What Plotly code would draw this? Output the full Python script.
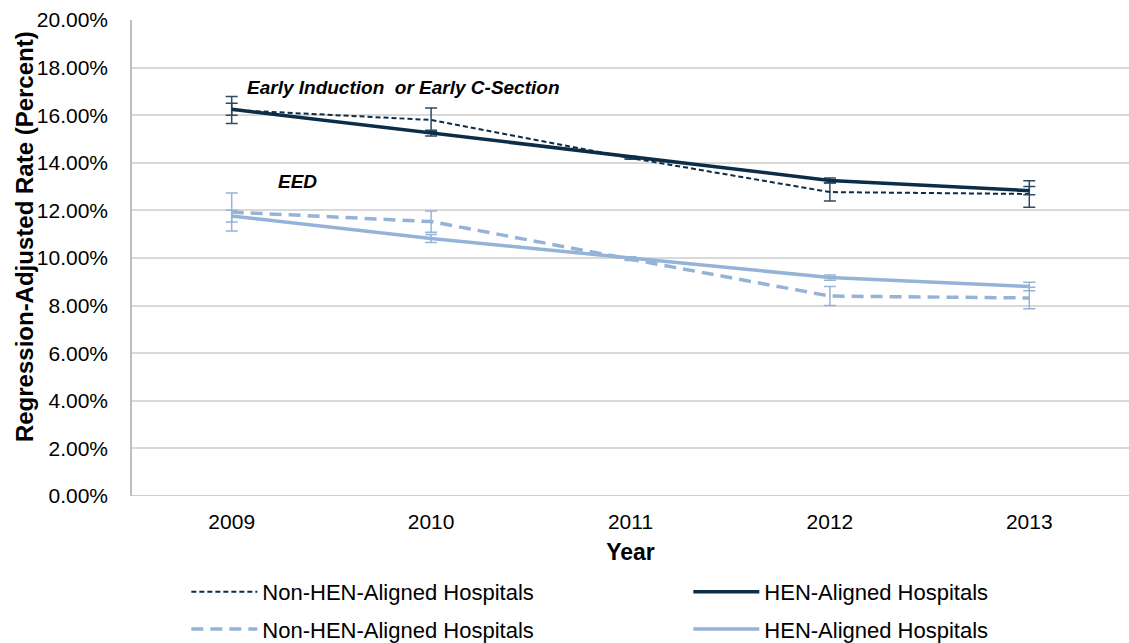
import plotly.graph_objects as go

years = ["2009", "2010", "2011", "2012", "2013"]

# Early Induction or Early C-Section (percent)
eid_non_hen = [16.22, 15.80, 14.20, 12.77, 12.69]
eid_non_hen_err = [0.57, 0.50, 0.05, 0.38, 0.56]
eid_hen = [16.25, 15.25, 14.24, 13.26, 12.83]
eid_hen_err = [0.25, 0.12, 0.04, 0.10, 0.17]

# EED (percent)
eed_non_hen = [11.93, 11.53, 9.95, 8.40, 8.32]
eed_non_hen_err = [0.80, 0.45, 0.05, 0.40, 0.45]
eed_hen = [11.76, 10.82, 10.00, 9.18, 8.80]
eed_hen_err = [0.25, 0.17, 0.05, 0.11, 0.18]

y_ticks = [0, 2, 4, 6, 8, 10, 12, 14, 16, 18, 20]

DARK = "#0c2d48"
DARK_ERR = "#2c4a62"
LIGHT = "#95b3d7"

def pct(a):
    return [v / 100 for v in a]

fig = go.Figure()

def add(name, vals, errs, color, errcolor, width, dash, legend):
    fig.add_trace(go.Scatter(
        x=years, y=pct(vals), name=name, mode="lines", legend=legend,
        line=dict(color=color, width=width, dash=dash),
        error_y=dict(type="data", array=pct(errs), visible=True,
                     color=errcolor, thickness=1.5, width=6),
    ))

add("Non-HEN-Aligned Hospitals", eid_non_hen, eid_non_hen_err, DARK, DARK_ERR, 2, "5px,3px", "legend")
add("HEN-Aligned Hospitals", eid_hen, eid_hen_err, DARK, DARK_ERR, 3.5, "solid", "legend2")
add("Non-HEN-Aligned Hospitals", eed_non_hen, eed_non_hen_err, LIGHT, LIGHT, 3.5, "12px,7px", "legend3")
add("HEN-Aligned Hospitals", eed_hen, eed_hen_err, LIGHT, LIGHT, 3.5, "solid", "legend4")

font_family = "Liberation Sans, Arial, sans-serif"

legend_common = dict(
    orientation="h", xanchor="left", yanchor="middle",
    font=dict(size=22, color="#000000"),
    itemwidth=66, bgcolor="rgba(0,0,0,0)",
)
col1_x, col2_x = 0.0545, 0.5580
row1_y, row2_y = -0.2017, -0.2800

fig.update_layout(
    width=1129, height=643,
    margin=dict(l=132, r=0, t=20, b=147, autoexpand=False),
    paper_bgcolor="white", plot_bgcolor="white",
    font=dict(family=font_family, size=21, color="#000000"),
    showlegend=True,
    legend=dict(x=col1_x, y=row1_y, **legend_common),
    legend2=dict(x=col2_x, y=row1_y, **legend_common),
    legend3=dict(x=col1_x, y=row2_y, **legend_common),
    legend4=dict(x=col2_x, y=row2_y, **legend_common),
    xaxis=dict(
        type="category", range=[-0.5, 4.5],
        showgrid=False, showline=False, zeroline=False,
        ticks="", tickfont=dict(size=21), ticklabelstandoff=11,
        title=dict(text="<b>Year</b>", font=dict(size=23), standoff=11),
    ),
    yaxis=dict(
        range=[0, 0.2], tickvals=pct(y_ticks), tickformat=".2%",
        showgrid=True, gridcolor="#d9d9d9", gridwidth=1.5,
        showline=True, linecolor="#bfbfbf", linewidth=1.5,
        zeroline=False, ticks="", ticklabelstandoff=18,
        tickfont=dict(size=21),
    ),
    annotations=[
        dict(text="<b>Regression-Adjusted Rate (Percent)</b>", xref="paper", yref="paper",
             x=-0.1083, y=0.544, xanchor="center", yanchor="middle", textangle=-90,
             showarrow=False, font=dict(size=24, color="#000000")),
        dict(text="<b><i>Early Induction  or Early C-Section</i></b>", xref="paper", yref="paper",
             x=0.1133, y=0.859, xanchor="left", yanchor="middle", showarrow=False,
             font=dict(size=19, color="#000000")),
        dict(text="<b><i>EED</i></b>", xref="paper", yref="paper",
             x=0.1444, y=0.66, xanchor="left", yanchor="middle", showarrow=False,
             font=dict(size=19, color="#000000")),
    ],
)

# bottom axis line at 0%
fig.add_shape(type="line", xref="paper", yref="y", x0=0, x1=1, y0=0, y1=0,
              line=dict(color="#bfbfbf", width=1.5))

fig.write_html(
    "out.html",
    config={"displayModeBar": False},
    post_script="document.body.style.margin='0';document.body.style.overflow='hidden';",
)
